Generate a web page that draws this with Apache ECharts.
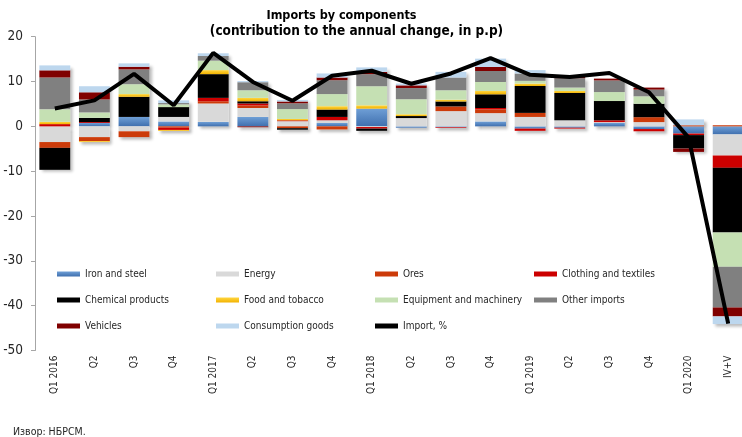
<!DOCTYPE html>
<html>
<head>
<meta charset="utf-8">
<script src="https://cdn.jsdelivr.net/npm/echarts@6/dist/echarts.min.js"></script>
<style>
  html, body { margin: 0; padding: 0; background: #ffffff; }
  #chart { width: 742px; height: 437px; }
</style>
</head>
<body>
<div id="chart"></div>
<script>
// Quarterly categories on the x axis
const categories = ['Q1 2016', 'Q2', 'Q3', 'Q4', 'Q1 2017', 'Q2', 'Q3', 'Q4',
  'Q1 2018', 'Q2', 'Q3', 'Q4', 'Q1 2019', 'Q2', 'Q3', 'Q4', 'Q1 2020', 'IV+V'];

// Contributions to the annual change of imports, percentage points
const ironSteel   = [0, 0.75, 2.1, 1.1, 1.0, 2.1, 0, 0.75, 3.95, -0.3, -0.2, 1.1, -0.5, -0.3, 0.75, -0.6, -1.6, -1.8];
const energy      = [-3.5, -2.4, -1.1, 1.0, 4.1, 2.0, 1.15, 0.6, -0.15, 1.85, 3.4, 1.85, 2.1, 1.35, 0.2, 0.95, 0, -4.7];
const ores        = [-1.3, -0.9, -1.3, -0.3, 0.5, 0.55, -0.4, -0.7, 0, 0, 1.05, 0.85, 0.9, 0, 0, 1.1, 0.25, 0.25];
const clothing    = [0.5, 0.2, 0, -0.5, 0.75, 0.45, 0.2, 0.75, -0.35, 0, -0.15, 0.3, -0.5, -0.2, 0.4, -0.5, -0.35, -2.75];
const chemical    = [-4.9, 0.95, 4.5, 2.2, 5.3, 0.5, -0.35, 1.65, -0.5, 0.45, 1.1, 3.05, 6.0, 6.1, 4.3, 3.0, -3.0, -14.4];
const food        = [0.5, -0.2, 0.6, -0.2, 0.9, 0.75, 0.3, 0.75, 0.75, 0.4, 0.4, 0.75, 0.55, 0.45, 0, 0, 0, 0];
const equipment   = [2.8, 1.2, 2.2, 0.6, 2.1, 1.7, 2.2, 2.7, 4.25, 3.35, 2.1, 2.0, 0.6, 0.75, 2.0, 1.65, 0, -7.65];
const otherImp    = [7.1, 2.9, 3.3, 0.3, 1.05, 1.8, 1.3, 3.1, 2.7, 2.5, 2.85, 2.45, 1.65, 2.1, 2.6, 1.5, 0, -9.1];
const vehicles    = [1.6, 1.6, 0.6, 0, 0, -0.2, 0.4, 0.6, 0.5, 0.6, 0, 0.9, 0, 0.25, 0.4, 0.45, -0.75, -2.0];
const consumption = [1.1, 1.35, 0.75, 0.6, 0.6, 0.25, 0.35, 0.9, 1.0, 0.4, 1.25, 1.85, 0.75, 0, 0, 0, 1.3, -1.7];

// Total imports, annual change in %
const importTotal = [4.0, 5.8, 11.7, 4.7, 16.4, 9.9, 5.7, 11.3, 12.4, 9.5, 11.8, 15.2, 11.5, 11.0, 11.9, 7.6, -2.5, -44.0];

// Value axis range and step
const yMin = -50;
const yMax = 20;
const yStep = 10;

const FONT = "'DejaVu Sans Condensed', 'DejaVu Sans', sans-serif";
const TEXT = '#262626';

function vgrad(top, bottom) {
  return new echarts.graphic.LinearGradient(0, 0, 0, 1, [
    { offset: 0, color: top },
    { offset: 1, color: bottom }
  ]);
}

const components = [
  { name: 'Iron and steel', data: ironSteel, color: vgrad('#6f9fd6', '#3f6fae') },
  { name: 'Energy', data: energy, color: '#d9d9d9' },
  { name: 'Ores', data: ores, color: '#cc3b0a' },
  { name: 'Clothing and textiles', data: clothing, color: '#cc0000' },
  { name: 'Chemical products', data: chemical, color: '#000000' },
  { name: 'Food and tobacco', data: food, color: vgrad('#ffd640', '#f2b200') },
  { name: 'Equipment and machinery', data: equipment, color: '#c5e0b3' },
  { name: 'Other imports', data: otherImp, color: '#808080' },
  { name: 'Vehicles', data: vehicles, color: '#800000' },
  { name: 'Consumption goods', data: consumption, color: '#bdd7ee' }
];

// Outline of each stacked column (positive and negative part), used for the drop shadow
const upperExtent = categories.map((_, i) =>
  components.reduce((s, c) => s + Math.max(c.data[i], 0), 0));
const lowerExtent = categories.map((_, i) =>
  components.reduce((s, c) => s + Math.min(c.data[i], 0), 0));

const BAR_W = '78%';

const shadeStyle = {
  color: '#ffffff',
  shadowColor: 'rgba(0,0,0,0.28)',
  shadowBlur: 3,
  shadowOffsetX: 2.5,
  shadowOffsetY: 2.5
};

const series = [
  { name: 'column shade up', type: 'bar', stack: 'shade', data: upperExtent, barWidth: BAR_W, barGap: '-100%',
    itemStyle: shadeStyle, z: 1, silent: true },
  { name: 'column shade down', type: 'bar', stack: 'shade', data: lowerExtent, barWidth: BAR_W, barGap: '-100%',
    itemStyle: shadeStyle, z: 1, silent: true }
];

components.forEach(c => {
  series.push({
    name: c.name,
    type: 'bar',
    stack: 'parts',
    data: c.data,
    barWidth: BAR_W,
    barGap: '-100%',
    itemStyle: { color: c.color },
    z: 2
  });
});

series.push({
  name: 'Import, %',
  type: 'line',
  data: importTotal,
  symbol: 'none',
  lineStyle: { color: '#000000', width: 4 },
  itemStyle: { color: '#000000' },
  z: 5
});

const chart = echarts.init(document.getElementById('chart'), null, { renderer: 'canvas' });

chart.setOption({
  animation: false,
  backgroundColor: '#ffffff',
  title: [
    { text: 'Imports by components', left: 341.5, top: 9, textAlign: 'center', padding: 0,
      textStyle: { fontFamily: FONT, fontSize: 12.5, fontWeight: 'bold', color: '#000000' } },
    { text: '(contribution to the annual change, in p.p)', left: 356.5, top: 24.5, textAlign: 'center', padding: 0,
      textStyle: { fontFamily: FONT, fontSize: 13.5, fontWeight: 'bold', color: '#000000' } }
  ],
  legend: {
    data: components.map(c => c.name).concat(['Import, %']),
    left: 57,
    top: 266,
    width: 640,
    padding: 0,
    itemWidth: 23,
    itemHeight: 5,
    itemGap: 10,
    icon: 'rect',
    textStyle: { fontFamily: FONT, fontSize: 10, color: TEXT, width: 121, lineHeight: 16 }
  },
  grid: {
    left: 35,
    right: -6,
    top: 36.7,
    bottom: 86.5,
    containLabel: false,
    outerBoundsMode: 'none'
  },
  xAxis: {
    type: 'category',
    data: categories,
    axisLine: { show: false },
    axisTick: { show: false },
    axisLabel: { interval: 0, rotate: 90, margin: 5, padding: [8, 0, 0, 0],
      fontFamily: FONT, fontSize: 10, color: TEXT }
  },
  yAxis: {
    type: 'value',
    min: yMin,
    max: yMax,
    interval: yStep,
    splitLine: { show: false },
    axisLine: { show: true, lineStyle: { color: '#a6a6a6', width: 1 } },
    axisTick: { show: true, length: 4, lineStyle: { color: '#a6a6a6' } },
    axisLabel: { margin: 12, fontFamily: FONT, fontSize: 13.5, color: TEXT }
  },
  graphic: [
    { type: 'text', left: 13, top: 427,
      style: { text: 'Извор: НБРСМ.', font: '10.5px ' + FONT, fill: TEXT } }
  ],
  series: series
});
</script>
</body>
</html>
